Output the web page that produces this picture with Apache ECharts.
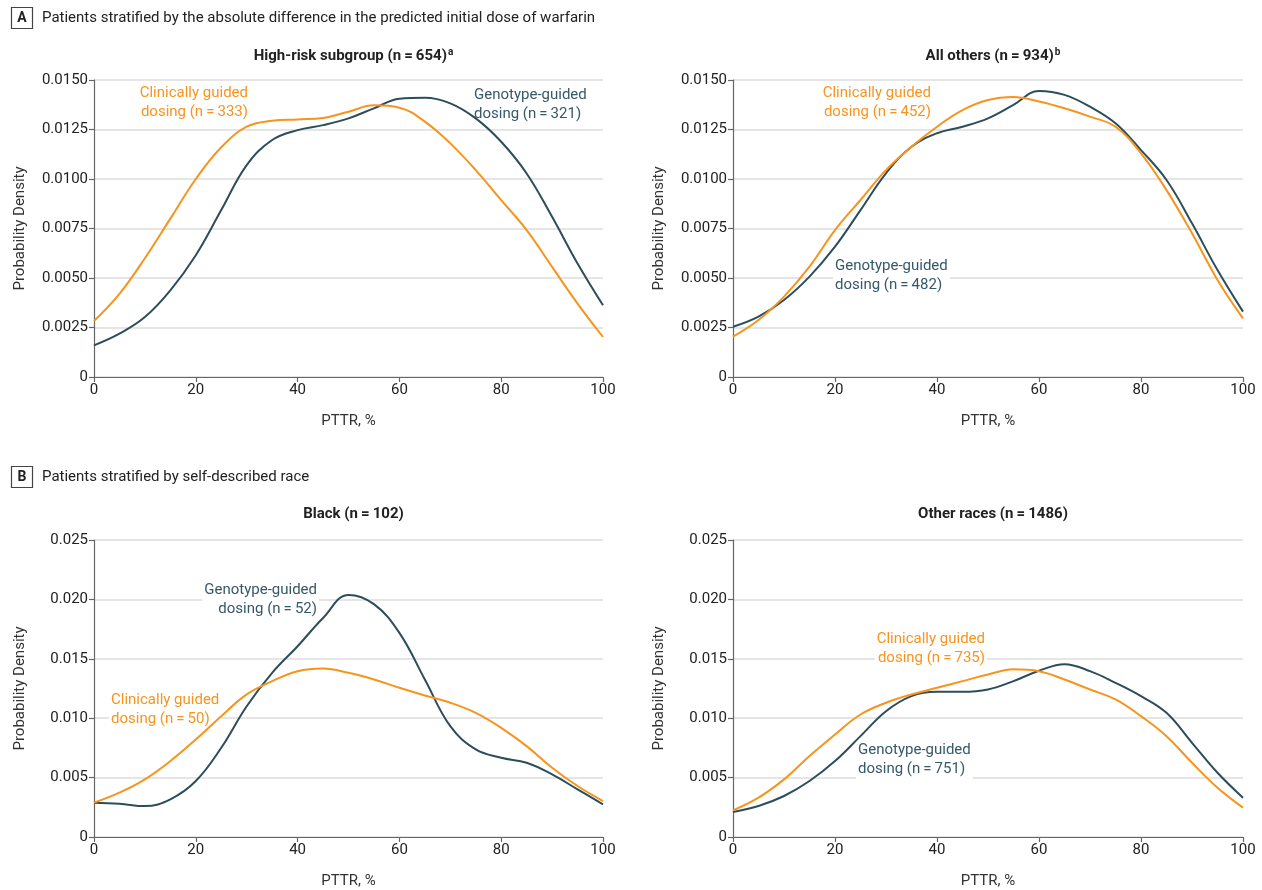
<!DOCTYPE html>
<html>
<head>
<meta charset="utf-8">
<script src="https://cdn.jsdelivr.net/npm/echarts@6/dist/echarts.min.js"></script>
<style>
  html, body { margin: 0; padding: 0; background: #fff; }
  #chart { width: 1262px; height: 890px; }
</style>
</head>
<body>
<div id="chart"></div>
<script>
// PTTR grid (percent) shared by every density curve
const pttr = [0, 5, 10, 15, 20, 25, 30, 35, 40, 45, 50, 55, 60, 65, 70, 75, 80, 85, 90, 95, 100];

// Panel A, high-risk subgroup
const highRiskClinical = [0.00283, 0.00420, 0.00600, 0.00800, 0.01000, 0.01160, 0.01264, 0.01294, 0.01301, 0.01308, 0.01340, 0.01372, 0.01360, 0.01290, 0.01180, 0.01045, 0.00893, 0.00742, 0.00556, 0.00371, 0.00202];
const highRiskGenotype = [0.00160, 0.00219, 0.00303, 0.00438, 0.00615, 0.00843, 0.01070, 0.01197, 0.01247, 0.01272, 0.01306, 0.01357, 0.01405, 0.01410, 0.01382, 0.01306, 0.01188, 0.01028, 0.00809, 0.00573, 0.00362];

// Panel A, all others
const othersClinical = [0.00204, 0.00288, 0.00406, 0.00557, 0.00742, 0.00894, 0.01045, 0.01163, 0.01264, 0.01348, 0.01399, 0.01414, 0.01391, 0.01357, 0.01315, 0.01264, 0.01130, 0.00944, 0.00726, 0.00490, 0.00296];
const othersGenotype = [0.00254, 0.00305, 0.00389, 0.00507, 0.00658, 0.00843, 0.01029, 0.01163, 0.01231, 0.01264, 0.01306, 0.01374, 0.01445, 0.01425, 0.01365, 0.01281, 0.01146, 0.00995, 0.00776, 0.00540, 0.00330];

// Panel B, Black patients
const blackClinical = [0.00289, 0.00373, 0.00485, 0.00639, 0.00821, 0.01017, 0.01200, 0.01312, 0.01396, 0.01418, 0.01382, 0.01326, 0.01256, 0.01191, 0.01130, 0.01045, 0.00919, 0.00765, 0.00583, 0.00429, 0.00303];
const blackGenotype = [0.00289, 0.00280, 0.00260, 0.00317, 0.00471, 0.00751, 0.01101, 0.01382, 0.01606, 0.01844, 0.02038, 0.01960, 0.01718, 0.01326, 0.00933, 0.00737, 0.00667, 0.00625, 0.00527, 0.00401, 0.00275];

// Panel B, other races
const otherRacesClinical = [0.00224, 0.00331, 0.00485, 0.00681, 0.00863, 0.01031, 0.01130, 0.01200, 0.01256, 0.01312, 0.01368, 0.01412, 0.01396, 0.01326, 0.01242, 0.01158, 0.01017, 0.00849, 0.00625, 0.00415, 0.00247];
const otherRacesGenotype = [0.00210, 0.00261, 0.00345, 0.00471, 0.00639, 0.00849, 0.01059, 0.01186, 0.01222, 0.01222, 0.01242, 0.01312, 0.01400, 0.01455, 0.01396, 0.01298, 0.01186, 0.01045, 0.00793, 0.00541, 0.00331];

// Y tick settings per row
const yTicksA = { max: 0.015, interval: 0.0025, digits: 4 };
const yTicksB = { max: 0.025, interval: 0.005, digits: 3 };

const ORANGE = '#F7941D';
const SLATE = '#2C4D5B';
const SLATE_TEXT = '#35596A';
const FONT = 'Roboto, "Noto Sans", sans-serif';

const panels = [
  { title: 'High-risk subgroup (n\u2009=\u2009654)', sup: 'a', left: 94, top: 80, width: 509, height: 297, ticks: yTicksA, clinical: highRiskClinical, genotype: highRiskGenotype },
  { title: 'All others (n\u2009=\u2009934)', sup: 'b', left: 733, top: 80, width: 510, height: 297, ticks: yTicksA, clinical: othersClinical, genotype: othersGenotype },
  { title: 'Black (n\u2009=\u2009102)', sup: '', left: 94, top: 540, width: 509, height: 298, ticks: yTicksB, clinical: blackClinical, genotype: blackGenotype },
  { title: 'Other races (n\u2009=\u20091486)', sup: '', left: 733, top: 540, width: 510, height: 298, ticks: yTicksB, clinical: otherRacesClinical, genotype: otherRacesGenotype }
];

const zip = (ys) => pttr.map((x, i) => [x, ys[i]]);

const grid = [], xAxis = [], yAxis = [], series = [], title = [];

panels.forEach((p, i) => {
  grid.push({ left: p.left, top: p.top, width: p.width, height: p.height, containLabel: false });
  xAxis.push({
    type: 'value', gridIndex: i, min: 0, max: 100, interval: 20,
    name: 'PTTR, %', nameLocation: 'middle', nameGap: 37,
    nameTextStyle: { fontFamily: FONT, fontSize: 15, color: '#333' },
    axisLine: { show: true, lineStyle: { color: '#666', width: 1.2 } },
    axisTick: { show: true, length: 5, lineStyle: { color: '#666', width: 1.2 } },
    axisLabel: { fontFamily: FONT, fontSize: 15, color: '#222', margin: 6 },
    splitLine: { show: false }
  });
  yAxis.push({
    type: 'value', gridIndex: i, min: 0, max: p.ticks.max, interval: p.ticks.interval,
    name: 'Probability Density', nameLocation: 'middle', nameGap: 66,
    nameTextStyle: { fontFamily: FONT, fontSize: 15, color: '#333' },
    axisLine: { show: true, lineStyle: { color: '#666', width: 1.2 } },
    axisTick: { show: true, length: 5, lineStyle: { color: '#666', width: 1.2 } },
    axisLabel: {
      fontFamily: FONT, fontSize: 15, color: '#222', margin: 6,
      formatter: (v) => (v === 0 ? '0' : v.toFixed(p.ticks.digits))
    },
    splitLine: { show: true, lineStyle: { color: '#dcdcdc', width: 1.5 } }
  });
  series.push({
    type: 'line', xAxisIndex: i, yAxisIndex: i, data: zip(p.clinical),
    smooth: 0.4, showSymbol: false, lineStyle: { color: ORANGE, width: 2 }, z: 3
  });
  series.push({
    type: 'line', xAxisIndex: i, yAxisIndex: i, data: zip(p.genotype),
    smooth: 0.4, showSymbol: false, lineStyle: { color: SLATE, width: 2 }, z: 2
  });
  title.push({
    text: p.sup ? '{b|' + p.title + '}{s|' + p.sup + '}' : '{b|' + p.title + '}',
    left: p.left + p.width / 2, top: p.top - 38, textAlign: 'center',
    textStyle: {
      rich: {
        b: { fontFamily: FONT, fontSize: 15, fontWeight: 'bold', color: '#222' },
        s: { fontFamily: FONT, fontSize: 10, fontWeight: 'bold', color: '#222', verticalAlign: 'top', padding: [0, 0, 8, 1] }
      }
    }
  });
});

// Section headers with boxed letters
function sectionHeader(letter, text, y) {
  return [
    { type: 'rect', shape: { x: 11.5, y: y - 10.5, width: 21, height: 21 }, style: { fill: '#fff', stroke: '#444', lineWidth: 1.2 } },
    { type: 'text', x: 22, y: y, style: { text: letter, fontFamily: FONT, fontSize: 14, fontWeight: 'bold', fill: '#222', align: 'center', verticalAlign: 'middle' } },
    { type: 'text', x: 42, y: y, style: { text: text, fontFamily: FONT, fontSize: 15, fill: '#222', align: 'left', verticalAlign: 'middle' } }
  ];
}

// Curve annotations; the white backing masks the gridlines behind the words
const PAD = 2;
function note(text, x, y, align, color) {
  return {
    type: 'text', x: align === 'right' ? x + PAD : x - PAD, y: y, z: 1,
    style: {
      text: text, fontFamily: FONT, fontSize: 15, fill: color, align: align, verticalAlign: 'top',
      lineHeight: 19, backgroundColor: '#fff', padding: [0, PAD]
    }
  };
}

const graphic = [].concat(
  sectionHeader('A', 'Patients stratified by the absolute difference in the predicted initial dose of warfarin', 18),
  sectionHeader('B', 'Patients stratified by self-described race', 477),
  [
    note('Clinically guided\ndosing (n\u2009=\u2009333)', 248, 84, 'right', ORANGE),
    note('Genotype-guided\ndosing (n\u2009=\u2009321)', 474, 86, 'left', SLATE_TEXT),
    note('Clinically guided\ndosing (n\u2009=\u2009452)', 931, 84, 'right', ORANGE),
    note('Genotype-guided\ndosing (n\u2009=\u2009482)', 835, 257, 'left', SLATE_TEXT),
    note('Genotype-guided\ndosing (n\u2009=\u200952)', 317, 581, 'right', SLATE_TEXT),
    note('Clinically guided\ndosing (n\u2009=\u200950)', 111, 691, 'left', ORANGE),
    note('Clinically guided\ndosing (n\u2009=\u2009735)', 985, 630, 'right', ORANGE),
    note('Genotype-guided\ndosing (n\u2009=\u2009751)', 858, 741, 'left', SLATE_TEXT)
  ]
);

const chart = echarts.init(document.getElementById('chart'), null, { renderer: 'canvas' });
chart.setOption({
  animation: false,
  backgroundColor: '#fff',
  title: title,
  grid: grid,
  xAxis: xAxis,
  yAxis: yAxis,
  series: series,
  graphic: graphic
});
</script>
</body>
</html>
